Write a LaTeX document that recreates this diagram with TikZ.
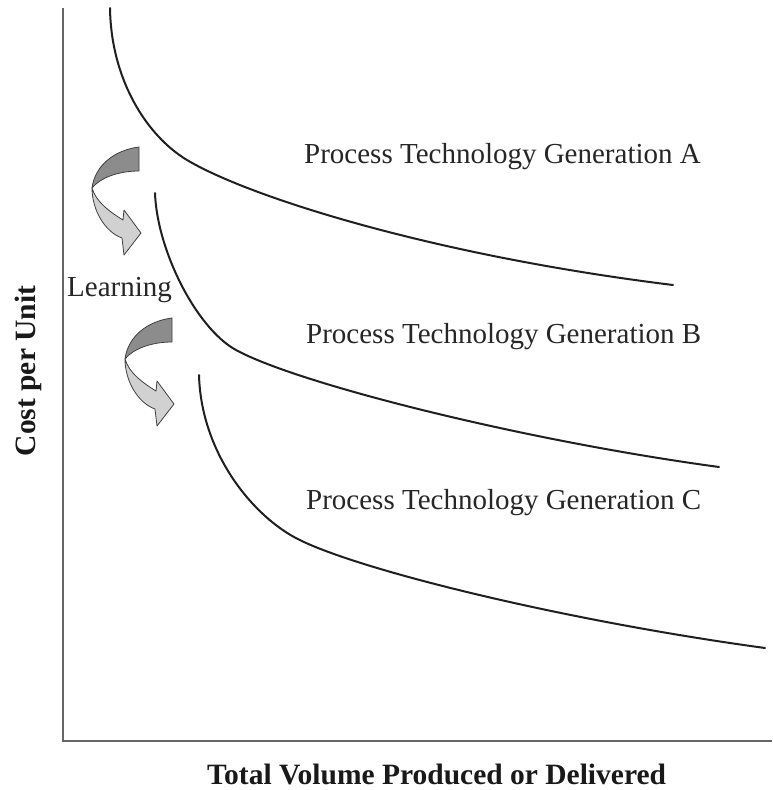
\documentclass[tikz,border=0pt]{standalone}
\usepackage{fontspec}
\setmainfont{Liberation Serif}
\tikzset{
  learnarrow/.pic={
    % lower, light half of the twisted ribbon with its head
    \path[lightpart] (92,188) .. controls (92,210) and (105,232) .. (122,238)
      -- (124,255) -- (141,233) -- (124,210) -- (123,220)
      .. controls (110,212) and (96,202) .. (92,188) -- cycle;
    % upper, dark half of the ribbon
    \path[darkpart] (139,147) .. controls (115,150) and (95,165) .. (92,188)
      .. controls (100,178) and (118,171) .. (139,171) -- cycle;
  }
}
\begin{document}
\begin{tikzpicture}[x=1pt,y=-1pt,
  axisline/.style={draw=black!60, line width=2.2pt},
  costcurve/.style={draw=black!88, line width=2pt, line cap=round},
  lbl/.style={font=\fontsize{29}{34}\selectfont, inner sep=0pt, anchor=base west, text=black!85},
  ttl/.style={font=\fontsize{29.5}{34}\selectfont\bfseries, inner sep=0pt, text=black!90},
  darkpart/.style={fill=black!45, draw=black!75, line width=0.8pt, line join=round},
  lightpart/.style={fill=black!18, draw=black!75, line width=0.8pt, line join=round}]
\useasboundingbox (0,0) rectangle (772,790);
\fill[white] (0,0) rectangle (772,790);

% axes
\coordinate (ytop) at (63,8);
\coordinate (origin) at (63,741);
\coordinate (xend) at (772,741);
\draw[axisline] (ytop) -- (origin) -- (xend);

% cost curves of the three process generations
\draw[costcurve] (110,8) .. controls (111,80) and (147,136) .. (187,160)
  .. controls (247,196) and (430,255) .. (673,285);
\draw[costcurve] (155,193) .. controls (157,250) and (196,328) .. (236,350)
  .. controls (296,383) and (520,440) .. (719,467);
\draw[costcurve] (199,375) .. controls (201,450) and (249,512) .. (294,537)
  .. controls (350,568) and (560,620) .. (765,648);

% learning arrows
\pic (arrowone) at (0,0) {learnarrow};
\pic (arrowtwo) at (33,171) {learnarrow};

% labels
\node[lbl] (genA) at (304,163) {Process Technology Generation A};
\node[lbl] (genB) at (306,343) {Process Technology Generation B};
\node[lbl] (genC) at (306,509) {Process Technology Generation C};
\node[lbl] (learn) at (67,296) {Learning};
\node[ttl, anchor=base west] (xlab) at (207,784) {Total Volume Produced or Delivered};
\node[ttl, anchor=base, rotate=90] (ylab) at (35,371) {Cost per Unit};
\end{tikzpicture}
\end{document}
